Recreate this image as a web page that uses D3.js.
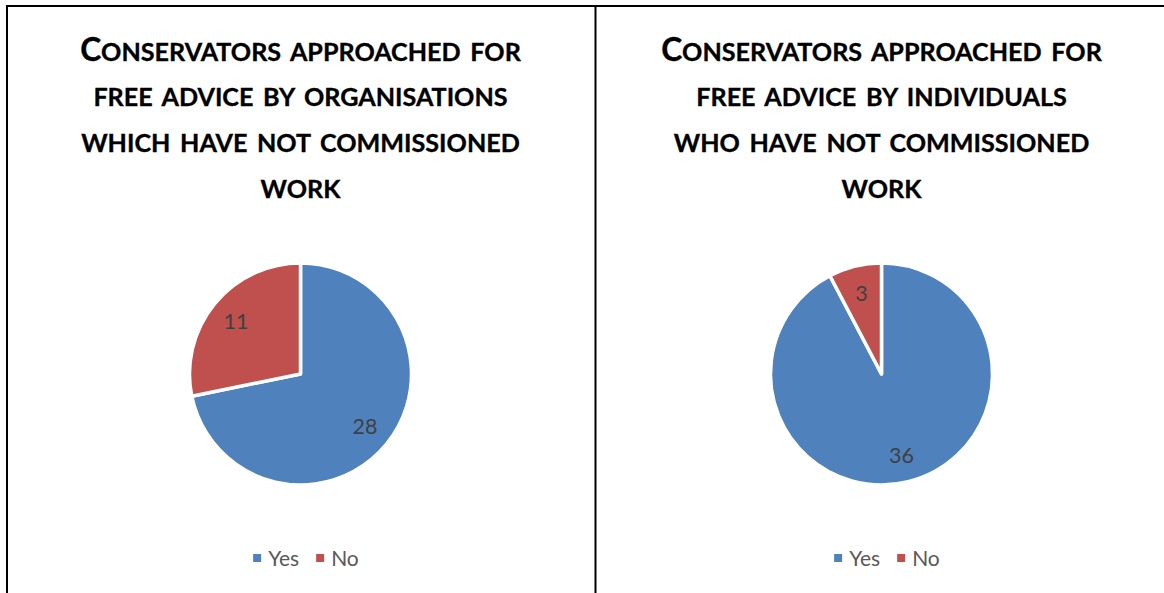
<!DOCTYPE html>
<html>
<head>
<meta charset="utf-8">
<script src="https://cdn.jsdelivr.net/npm/d3@7"></script>
<style>
  html, body { margin: 0; padding: 0; background: #fff; }
  svg { display: block; }
</style>
</head>
<body>
<svg id="chart" width="1164" height="593"></svg>
<script>
// Survey answers shared by both pies
const categories = ["Yes", "No"];
const organisationValues = [28, 11];
const individualValues = [36, 3];

// Chart titles, one entry per wrapped line
const organisationTitle = [
  "Conservators approached for",
  "free advice by organisations",
  "which have not commissioned",
  "work"
];
const individualTitle = [
  "Conservators approached for",
  "free advice by individuals",
  "who have not commissioned",
  "work"
];

const colors = d3.scaleOrdinal().domain(categories).range(["#4F81BD", "#C0504D"]);

const W = 1164, H = 593;
const svg = d3.select("#chart");
const FONT = "Lato, 'Open Sans', 'DejaVu Sans', sans-serif";

// Panel frame: top rule, left rule and the divider between the two charts
const frame = svg.append("g").attr("stroke", "#000").attr("stroke-width", 2);
frame.append("line").attr("x1", 6).attr("x2", W).attr("y1", 6).attr("y2", 6);
frame.append("line").attr("x1", 7).attr("x2", 7).attr("y1", 5).attr("y2", H);
frame.append("line").attr("x1", 595.5).attr("x2", 595.5).attr("y1", 5).attr("y2", H);

const panels = [
  { values: organisationValues, title: organisationTitle, cx: 300.5 },
  { values: individualValues, title: individualTitle, cx: 881.5 }
];

const radius = 111;
const cy = 374;
const titleBaselines = [61, 106.5, 152, 198];
const BIG = 31.5, SMALL = 25;

// Writes a line in small capitals: original capitals at full size, the rest raised to capitals at a smaller size
function smallCapsLine(sel, str) {
  const runs = [];
  for (const ch of str) {
    const big = ch !== " " && ch === ch.toUpperCase() && ch !== ch.toLowerCase();
    const last = runs[runs.length - 1];
    if (last && last.big === big) last.text += ch;
    else runs.push({ big, text: ch });
  }
  sel.selectAll("tspan").data(runs).join("tspan")
    .attr("font-size", d => d.big ? BIG : SMALL)
    .text(d => d.text.toUpperCase());
}

panels.forEach(p => {
  const g = svg.append("g");

  // Title
  const tg = g.append("g");
  const lines = tg.selectAll("text").data(p.title).join("text")
    .attr("x", 0)
    .attr("y", (d, i) => titleBaselines[i])
    .attr("text-anchor", "middle")
    .attr("font-family", FONT)
    .attr("font-weight", "bold")
    .attr("word-spacing", 3.5)
    .attr("fill", "#000")
    .attr("stroke", "#000")
    .attr("stroke-width", 0.35)
    .each(function (d) { smallCapsLine(d3.select(this), d); });
  const firstWidth = lines.node().getComputedTextLength();
  const sx = 441 / firstWidth;
  tg.attr("transform", `translate(${p.cx},0) scale(${sx},1)`);

  // Pie
  const pie = d3.pie().sort(null).value(d => d.value);
  const data = pie(categories.map((c, i) => ({ category: c, value: p.values[i] })));
  const arc = d3.arc().innerRadius(0).outerRadius(radius);
  const labelArc = d3.arc().innerRadius(radius * 0.75).outerRadius(radius * 0.75);

  const pg = g.append("g").attr("transform", `translate(${p.cx},${cy})`);
  pg.selectAll("path").data(data).join("path")
    .attr("d", arc)
    .attr("fill", d => colors(d.data.category))
    .attr("stroke", "#fff")
    .attr("stroke-width", 3.5)
    .attr("stroke-linejoin", "round");

  pg.selectAll("text").data(data).join("text")
    .attr("transform", d => `translate(${labelArc.centroid(d)})`)
    .attr("text-anchor", "middle")
    .attr("dy", "0.36em")
    .attr("font-family", FONT)
    .attr("font-size", 21.5)
    .attr("fill", "#404040")
    .text(d => d.data.value);

  // Legend
  const lg = g.append("g");
  const items = lg.selectAll("g").data(categories).join("g");
  items.append("rect")
    .attr("width", 8).attr("height", 8)
    .attr("y", 554)
    .attr("fill", d => colors(d));
  items.append("text")
    .attr("x", 15)
    .attr("y", 566)
    .attr("font-family", FONT)
    .attr("font-size", 21)
    .attr("fill", "#595959")
    .text(d => d);
  let x = 0;
  items.each(function () {
    const w = this.getBBox().width;
    d3.select(this).attr("transform", `translate(${x},0)`);
    x += w + 17;
  });
  const total = x - 17;
  lg.attr("transform", `translate(${p.cx + 5.5 - total / 2},0)`);
});
</script>
</body>
</html>
